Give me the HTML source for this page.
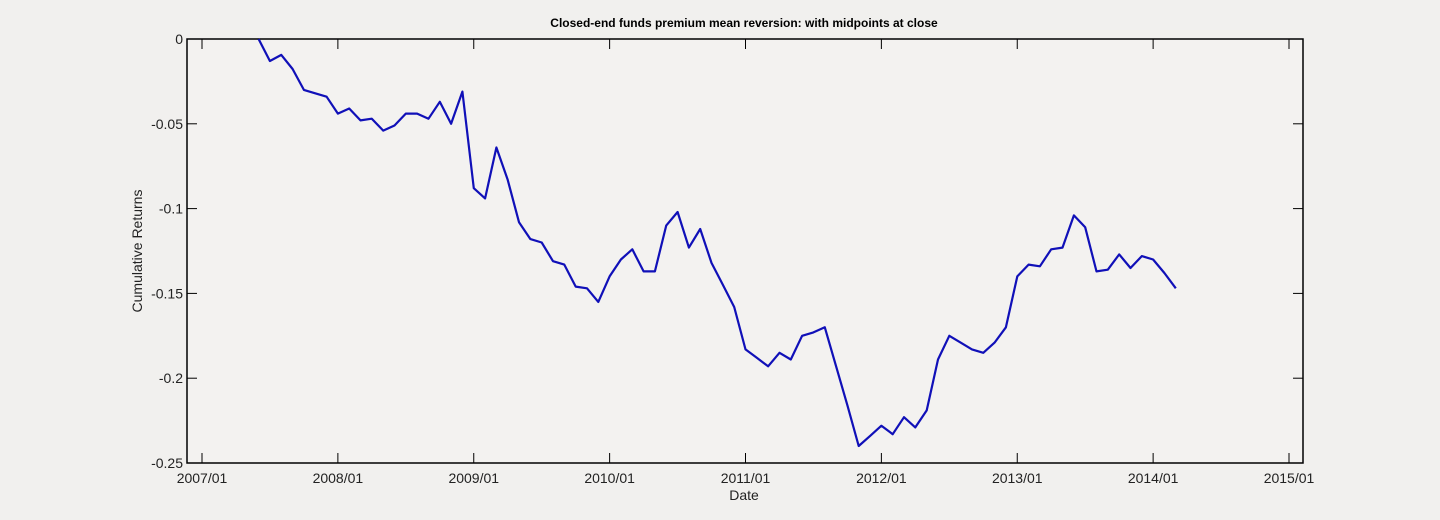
<!DOCTYPE html>
<html><head><meta charset="utf-8"><style>
html,body{margin:0;padding:0;background:#f1f0ee;}
svg{display:block;font-family:"Liberation Sans",Arial,sans-serif;}
</style></head><body>
<svg id="chart" width="1440" height="520" viewBox="0 0 1440 520" xmlns="http://www.w3.org/2000/svg">
<rect x="0" y="0" width="1440" height="520" fill="#f1f0ee"/>
<text x="744" y="27" text-anchor="middle" font-size="12" font-weight="bold" fill="#000">Closed-end funds premium mean reversion: with midpoints at close</text>
<text x="744" y="500" text-anchor="middle" font-size="14" fill="#222">Date</text>
<text x="0" y="0" transform="translate(142,251) rotate(-90)" text-anchor="middle" font-size="14" fill="#222">Cumulative Returns</text>
<g id="axes"></g>
<g id="series"></g>
</svg>
<script>
const startMonth = 5; // months since 2007/01
const values = [0,-0.013,-0.0094,-0.0177,-0.030,-0.032,-0.034,-0.044,-0.041,-0.048,-0.047,-0.054,-0.051,-0.044,-0.044,-0.047,-0.037,-0.050,-0.031,-0.088,-0.094,-0.064,-0.083,-0.108,-0.118,-0.120,-0.131,-0.133,-0.146,-0.147,-0.155,-0.140,-0.130,-0.124,-0.137,-0.137,-0.110,-0.102,-0.123,-0.112,-0.132,-0.145,-0.158,-0.183,-0.188,-0.193,-0.185,-0.189,-0.175,-0.173,-0.170,-0.193,-0.216,-0.240,-0.234,-0.228,-0.233,-0.223,-0.229,-0.219,-0.189,-0.175,-0.179,-0.183,-0.185,-0.179,-0.170,-0.140,-0.133,-0.134,-0.124,-0.123,-0.104,-0.111,-0.137,-0.136,-0.127,-0.135,-0.128,-0.130,-0.138,-0.147];
const xTickLabels = ["2007/01","2008/01","2009/01","2010/01","2011/01","2012/01","2013/01","2014/01","2015/01"];
const yTickValues = [0,-0.05,-0.1,-0.15,-0.2,-0.25];
const yTickLabels = ["0","-0.05","-0.1","-0.15","-0.2","-0.25"];

const NS="http://www.w3.org/2000/svg";
const L=187,R=1303,T=39,B=463;
const X0=202,X1=1289; // 2007/01 .. 2015/01 (96 months)
function xs(m){return X0+m*(X1-X0)/96;}
function ys(v){return T+(0-v)/0.25*(B-T);}
function mk(tag,attrs,parent){const e=document.createElementNS(NS,tag);for(const k in attrs)e.setAttribute(k,attrs[k]);parent.appendChild(e);return e;}
const axes=document.getElementById('axes');
const series=document.getElementById('series');
const box=mk('rect',{x:L,y:T,width:R-L,height:B-T,fill:'#f3f2f0',stroke:'#000','stroke-width':1.5},axes);


xTickLabels.forEach((lab,i)=>{
  const x=xs(i*12);
  const t1=mk('line',{x1:x,y1:B,x2:x,y2:B-10,stroke:'#000','stroke-width':1},axes);
  
  
  const t2=mk('line',{x1:x,y1:T,x2:x,y2:T+10,stroke:'#000','stroke-width':1},axes);
  
  
  const tx=mk('text',{x:x,y:B+20,'text-anchor':'middle','font-size':14,fill:'#222'},axes);
  tx.textContent=lab;
  
  
});
yTickValues.forEach((v,i)=>{
  const y=ys(v);
  const t1=mk('line',{x1:L,y1:y,x2:L+10,y2:y,stroke:'#000','stroke-width':1},axes);
  
  
  const t2=mk('line',{x1:R,y1:y,x2:R-10,y2:y,stroke:'#000','stroke-width':1},axes);
  
  
  const tx=mk('text',{x:L-4,y:y+5,'text-anchor':'end','font-size':14,fill:'#222'},axes);
  tx.textContent=yTickLabels[i];
  
  
});
const pts=values.map((v,i)=>xs(startMonth+i).toFixed(1)+','+ys(v).toFixed(1)).join(' ');
const line=mk('polyline',{points:pts,fill:'none',stroke:'#1010b8','stroke-width':2.2,'stroke-linejoin':'round'},series);


</script>
</body></html>
